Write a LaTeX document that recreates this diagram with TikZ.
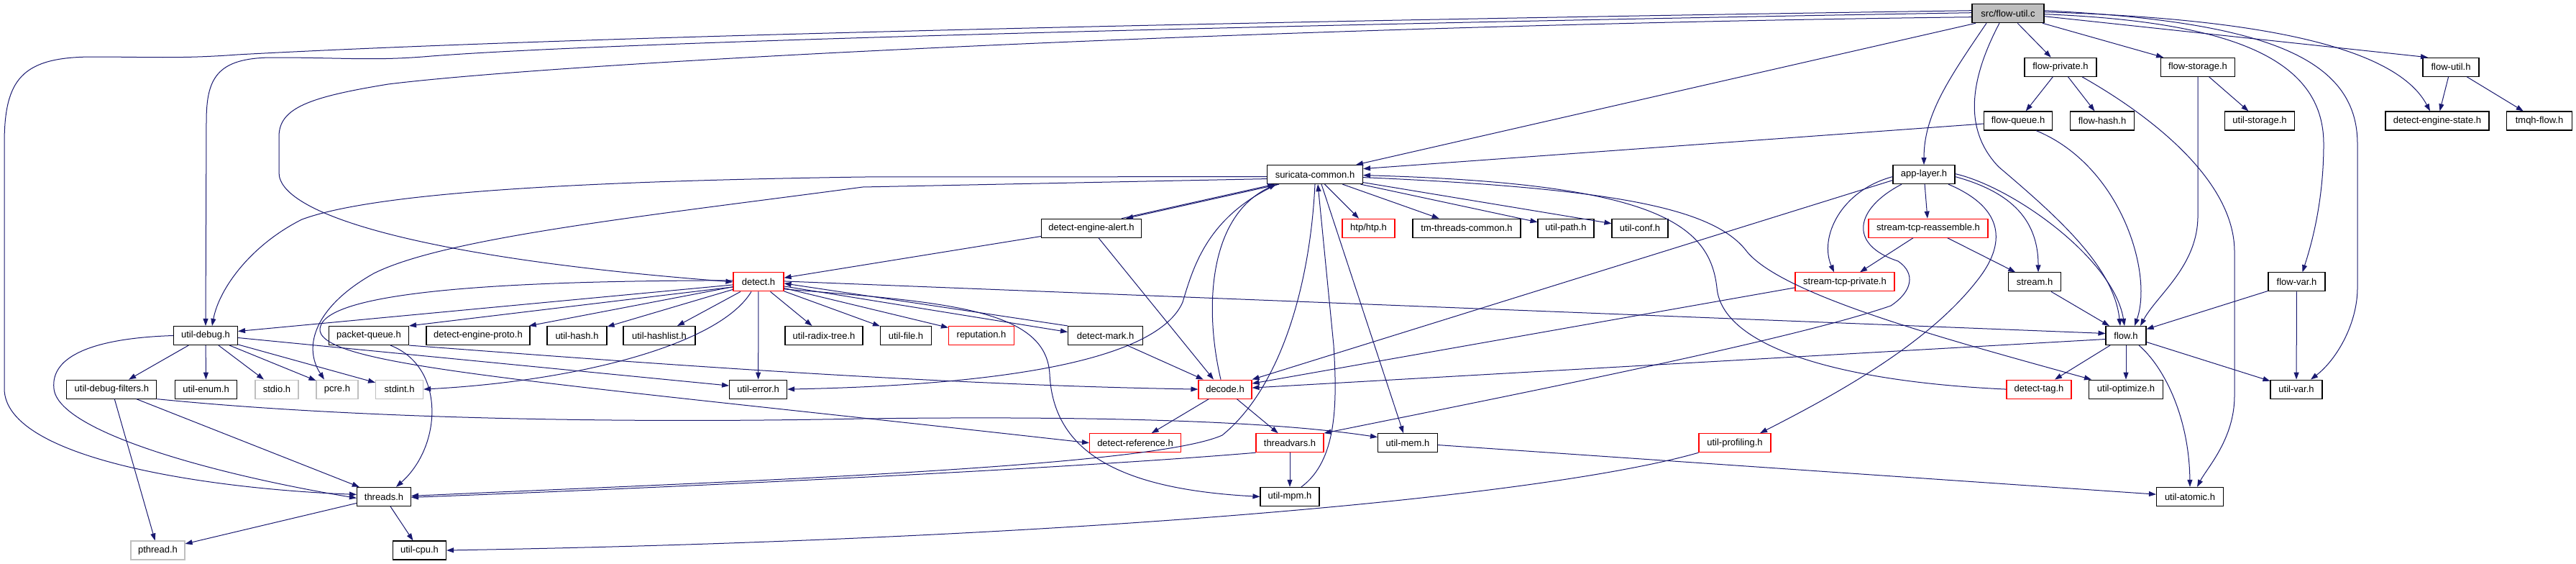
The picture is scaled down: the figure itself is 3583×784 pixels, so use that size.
\documentclass[tikz,border=0pt]{standalone}
\usepackage{fontspec}
\setmainfont{Liberation Sans}
\usetikzlibrary{arrows.meta}
\definecolor{edgeblue}{HTML}{191970}
\definecolor{sysgray}{HTML}{BFBFBF}
\begin{document}
\begin{tikzpicture}[x=1pt,y=-1pt,
  box/.style={draw=black, fill=white, line width=1.1pt, minimum height=26pt, inner sep=0pt, font=\fontsize{13}{15}\selectfont, text=black},
  trunc/.style={box, draw=red},
  sys/.style={box, draw=sysgray},
  root/.style={box, fill=sysgray},
  link/.style={draw=edgeblue, line width=1pt, -{Triangle[length=10pt,width=7pt]}}]
\fill[white] (0,0) rectangle (3583,784);
\useasboundingbox (0,0) rectangle (3583,784);
% row 0
\node[root, minimum width=100pt] (fu) at (2793,18.7) {src/flow-util.c};
% row 1
\node[box, minimum width=100pt] (fp) at (2866,93.3) {flow-private.h};
\node[box, minimum width=103pt] (fs) at (3057,93.3) {flow-storage.h};
\node[box, minimum width=78pt] (fuh) at (3409,93.3) {flow-util.h};
% row 2
\node[box, minimum width=95pt] (fq) at (2807,168) {flow-queue.h};
\node[box, minimum width=89pt] (fh) at (2924,168) {flow-hash.h};
\node[box, minimum width=97pt] (us) at (3143,168) {util-storage.h};
\node[box, minimum width=144pt] (des) at (3390,168) {detect-engine-state.h};
\node[box, minimum width=91pt] (tf) at (3532,168) {tmqh-flow.h};
% row 3
\node[box, minimum width=133pt] (sc) at (1829,242.6) {suricata-common.h};
\node[box, minimum width=86pt] (al) at (2676,242.6) {app-layer.h};
% row 4
\node[box, minimum width=139pt] (dea) at (1518,317.2) {detect-engine-alert.h};
\node[trunc, minimum width=73pt] (htp) at (1903.5,317.2) {htp/htp.h};
\node[box, minimum width=150pt] (tm) at (2040,317.2) {tm-threads-common.h};
\node[box, minimum width=78pt] (upa) at (2178,317.2) {util-path.h};
\node[box, minimum width=78pt] (uc) at (2281,317.2) {util-conf.h};
\node[trunc, minimum width=166pt] (str) at (2682,317.2) {stream-tcp-reassemble.h};
% row 5
\node[trunc, minimum width=70pt] (det) at (1055,391.9) {detect.h};
\node[trunc, minimum width=138pt] (stp) at (2566,391.9) {stream-tcp-private.h};
\node[box, minimum width=73pt] (stm) at (2830,391.9) {stream.h};
\node[box, minimum width=79pt] (fv) at (3194.5,391.9) {flow-var.h};
% row 6
\node[box, minimum width=89pt] (ud) at (286,466.5) {util-debug.h};
\node[box, minimum width=111pt] (pq) at (513,466.5) {packet-queue.h};
\node[box, minimum width=144pt] (dep) at (665,466.5) {detect-engine-proto.h};
\node[box, minimum width=83pt] (uh) at (802.5,466.5) {util-hash.h};
\node[box, minimum width=100pt] (uhl) at (917,466.5) {util-hashlist.h};
\node[box, minimum width=108pt] (urt) at (1146,466.5) {util-radix-tree.h};
\node[box, minimum width=71pt] (ufi) at (1260,466.5) {util-file.h};
\node[trunc, minimum width=91pt] (rep) at (1365,466.5) {reputation.h};
\node[box, minimum width=104pt] (dm) at (1537.5,466.5) {detect-mark.h};
\node[box, minimum width=56pt] (fl) at (2957,466.5) {flow.h};
% row 7
\node[box, minimum width=125pt] (udf) at (155.4,541.1) {util-debug-filters.h};
\node[box, minimum width=86pt] (ue) at (286.6,541.1) {util-enum.h};
\node[sys, minimum width=60pt] (sio) at (385,541.1) {stdio.h};
\node[sys, minimum width=58pt] (pcre) at (469,541.1) {pcre.h};
\node[sys, minimum width=66pt] (sint) at (555.6,541.1) {stdint.h};
\node[box, minimum width=80pt] (uer) at (1054.6,541.1) {util-error.h};
\node[trunc, minimum width=74pt] (dec) at (1704,541.1) {decode.h};
\node[trunc, minimum width=90pt] (dt) at (2836,541.1) {detect-tag.h};
\node[box, minimum width=103pt] (uo) at (2957,541.1) {util-optimize.h};
\node[box, minimum width=72pt] (uv) at (3194,541.1) {util-var.h};
% row 8
\node[trunc, minimum width=127pt] (dr) at (1579,615.7) {detect-reference.h};
\node[trunc, minimum width=94pt] (tv) at (1794,615.7) {threadvars.h};
\node[box, minimum width=83pt] (um) at (1958,615.7) {util-mem.h};
\node[trunc, minimum width=100pt] (upf) at (2413,615.7) {util-profiling.h};
% row 9
\node[box, minimum width=75pt] (th) at (534,690.4) {threads.h};
\node[box, minimum width=82pt] (mpm) at (1794,690.4) {util-mpm.h};
\node[box, minimum width=93pt] (ua) at (3046,690.4) {util-atomic.h};
% row 10
\node[sys, minimum width=75pt] (pth) at (219.5,765) {pthread.h};
\node[box, minimum width=74pt] (cpu) at (583.5,765) {util-cpu.h};

% ---- edges from src/flow-util.c
\draw[link] ([yshift=4pt]fu.west) .. controls (2100,24) and (900,45) .. (330,76) .. controls (250,82) and (200,79) .. (130,79) .. controls (30,79) and (6,110) .. (6,200) -- (6,540) .. controls (6,640) and (300,680) .. ([yshift=3pt]th.west);
\draw[link] ([yshift=1pt]fu.west) .. controls (2000,30) and (900,55) .. (600,78) .. controls (520,85) and (480,80) .. (380,80) .. controls (300,80) and (287,110) .. (287,170) -- (ud.north);
\draw[link] ([yshift=-5pt]fu.west) .. controls (1800,35) and (800,85) .. (540,117) .. controls (430,135) and (388,150) .. (388,190) -- (388,240) .. controls (388,300) and (600,360) .. (det.west);
\draw[link] ([xshift=-45pt]fu.south) -- ([xshift=57pt]sc.north);
\draw[link] ([xshift=-30pt]fu.south) .. controls (2710,110) and (2676,160) .. (al.north);
\draw[link] ([xshift=-12pt]fu.south) .. controls (2740,110) and (2730,180) .. (2780,232) .. controls (2860,300) and (2940,370) .. ([xshift=-8pt]fl.north);
\draw[link] (fu) -- (fp);
\draw[link] (fu) -- (fs);
\draw[link] ([yshift=-4pt]fu.east) -- ([xshift=-32pt]fuh.north);
\draw[link] ([yshift=2pt]fu.east) .. controls (3120,25) and (3330,60) .. ([xshift=-10pt]des.north);
\draw[link] ([yshift=-1pt]fu.east) .. controls (3100,30) and (3232,80) .. (3232,200) .. controls (3232,280) and (3215,340) .. ([xshift=8pt]fv.north);
\draw[link] ([yshift=4pt]fu.east) .. controls (3150,30) and (3279,80) .. (3279,200) -- (3279,400) .. controls (3279,450) and (3250,500) .. ([xshift=20pt]uv.north);
% ---- flow-private / storage / util / queue
\draw[link] (fp) -- (fq);
\draw[link] (fp) -- (fh);
\draw[link] ([xshift=30pt]fp.south) .. controls (2990,160) and (3108,250) .. (3108,350) -- (3108,550) .. controls (3108,610) and (3070,650) .. ([xshift=10pt]ua.north);
\draw[link] (fs) -- (us);
\draw[link] (fs.south) -- (3057,300) .. controls (3057,370) and (3000,410) .. ([xshift=20pt]fl.north);
\draw[link] (fuh) -- (des);
\draw[link] (fuh) -- (tf);
\draw[link] ([yshift=-4pt]fq.west) -- ([yshift=8pt]sc.east);
\draw[link] ([xshift=25pt]fq.south) .. controls (2950,230) and (2995,380) .. ([xshift=12pt]fl.north);
% ---- app-layer.h
\draw[link] ([yshift=-3pt]al.west) .. controls (2560,265) and (2530,330) .. ([xshift=-15pt]stp.north);
\draw[link] ([yshift=-8pt]al.west) -- (dec.north east);
\draw[link] ([xshift=-31pt]al.south) .. controls (2580,290) and (2570,340) .. (2640,363) .. controls (2665,380) and (2660,405) .. (2630,425) .. controls (2500,470) and (2150,540) .. (tv.north east);
\draw[link] (al) -- (str);
\draw[link] ([xshift=34pt]al.south) .. controls (2790,290) and (2790,340) .. (2750,390) .. controls (2680,480) and (2550,550) .. ([xshift=35pt]upf.north);
\draw[link] ([yshift=-3pt]al.east) .. controls (2790,265) and (2835,300) .. ([xshift=5pt]stm.north);
\draw[link] ([yshift=1pt]al.east) .. controls (2800,260) and (2940,360) .. ([xshift=-2pt]fl.north);
\draw[link] (str) -- (stp);
\draw[link] (str) -- (stm);
\draw[link] ([yshift=-8pt]stp.west) -- ([yshift=8pt]dec.east);
\draw[link] (stm) -- (fl);
\draw[link] (fv) -- (fl);
\draw[link] (fv) -- (uv);
% ---- flow.h
\draw[link] ([yshift=-5pt]fl.west) -- ([yshift=2pt]dec.east);
\draw[link] (fl) -- (dt);
\draw[link] (fl) -- (uo);
\draw[link] (fl) -- (uv);
\draw[link] ([xshift=18pt]fl.south) .. controls (3010,510) and (3045,580) .. (ua.north);
\draw[link] (dt.west) .. controls (2550,530) and (2395,480) .. (2388,400) .. controls (2378,310) and (2300,255) .. ([yshift=-1pt]sc.east);
% ---- suricata-common.h
\draw[link] ([yshift=-4pt]sc.east) .. controls (2250,262) and (2385,290) .. (2430,350) .. controls (2480,410) and (2700,470) .. ([xshift=4pt]uo.north west);
\draw[link] ([yshift=-3pt]sc.west) -- (1200,246) .. controls (800,252) and (520,268) .. (420,305) .. controls (350,340) and (305,400) .. ([xshift=9pt]ud.north);
\draw[link] ([yshift=-6pt]sc.west) -- (1200,260) .. controls (900,300) and (620,330) .. (520,380) .. controls (440,425) and (420,480) .. ([xshift=-18pt]pcre.north);
\draw[link] ([xshift=-50pt]sc.south) -- ([xshift=48pt]dea.north);
\draw[link] ([xshift=42pt]dea.north) -- ([xshift=-56pt]sc.south);
\draw[link] (sc) -- (htp);
\draw[link] (sc) -- (tm);
\draw[link] (sc) -- (upa);
\draw[link] (sc) -- (uc);
\draw[link] ([xshift=-52pt]sc.south) .. controls (1680,300) and (1660,370) .. (1645,420) .. controls (1610,500) and (1400,535) .. (uer.east);
\draw[link] ([xshift=-6pt]dec.north) .. controls (1675,430) and (1680,300) .. ([xshift=-54pt]sc.south);
\draw[link] (sc.south) .. controls (1822,400) and (1780,540) .. (1700,605) .. controls (1600,650) and (1000,670) .. ([yshift=1pt]th.east);
\draw[link] ([xshift=16pt]mpm.north) .. controls (1860,640) and (1860,560) .. (1855,480) -- ([xshift=4pt]sc.south);
\draw[link] ([xshift=9pt]sc.south) -- ([xshift=-6pt]um.north);
% ---- detect-engine-alert / decode / etc
\draw[link] (dea) -- (det);
\draw[link] ([xshift=10pt]dea.south) -- ([xshift=-16pt]dec.north);
\draw[link] (dec) -- (dr);
\draw[link] (dec) -- (tv);
\draw[link] (dm) -- (dec);
\draw[link] (tv) -- (mpm);
\draw[link] (tv.south west) .. controls (1500,650) and (1000,675) .. ([yshift=-1pt]th.east);
\draw[link] (um) -- (ua);
\draw[link] (upf.south west) .. controls (2150,690) and (1500,750) .. (cpu.east);
% ---- detect.h
\draw[link] ([yshift=-4pt]det.west) -- ([yshift=6pt]ud.east);
\draw[link] ([yshift=-7pt]det.west) -- (pq.north east);
\draw[link] (det) -- (dep);
\draw[link] (det) -- (uh);
\draw[link] (det) -- (uhl);
\draw[link] ([xshift=-10pt]det.south) .. controls (1000,480) and (800,530) .. (sint.east);
\draw[link] (det) -- (uer);
\draw[link] (det) -- (urt);
\draw[link] (det) -- (ufi);
\draw[link] (det) -- (rep);
\draw[link] (dm.north west) -- ([yshift=-2pt]det.east);
\draw[link] ([yshift=-6pt]det.east) -- ([yshift=5pt]dm.west);
\draw[link] ([yshift=1pt]det.east) -- ([yshift=3pt]fl.west);
\draw[link] ([yshift=-10pt]det.east) .. controls (1320,420) and (1455,430) .. (1460,520) .. controls (1465,630) and (1560,680) .. (mpm.west);
\draw[link] ([yshift=2pt]det.west) .. controls (700,390) and (440,405) .. (445,460) .. controls (455,510) and (750,530) .. (dr.west);
% ---- util-debug.h
\draw[link] (ud) -- (udf);
\draw[link] (ud) -- (ue);
\draw[link] (ud) -- (sio);
\draw[link] (ud) -- (pcre);
\draw[link] (ud) -- (sint);
\draw[link] ([yshift=-3pt]ud.east) -- ([yshift=5pt]uer.west);
\draw[link] (ud.west) .. controls (130,470) and (70,495) .. (75,540) .. controls (80,600) and (300,660) .. ([yshift=-2pt]th.west);
% ---- util-debug-filters.h
\draw[link] (udf) -- (pth);
\draw[link] (udf) -- (th);
\draw[link] (udf.south east) .. controls (450,578) and (800,590) .. (1200,582) .. controls (1600,577) and (1800,590) .. ([yshift=8pt]um.west);
% ---- packet-queue.h
\draw[link] ([xshift=30pt]pq.south) .. controls (620,510) and (615,620) .. ([xshift=17pt]th.north);
\draw[link] (pq.south east) .. controls (900,505) and (1300,535) .. (dec.west);
% ---- threads.h
\draw[link] (th) -- (pth);
\draw[link] (th) -- (cpu);
\end{tikzpicture}
\end{document}
